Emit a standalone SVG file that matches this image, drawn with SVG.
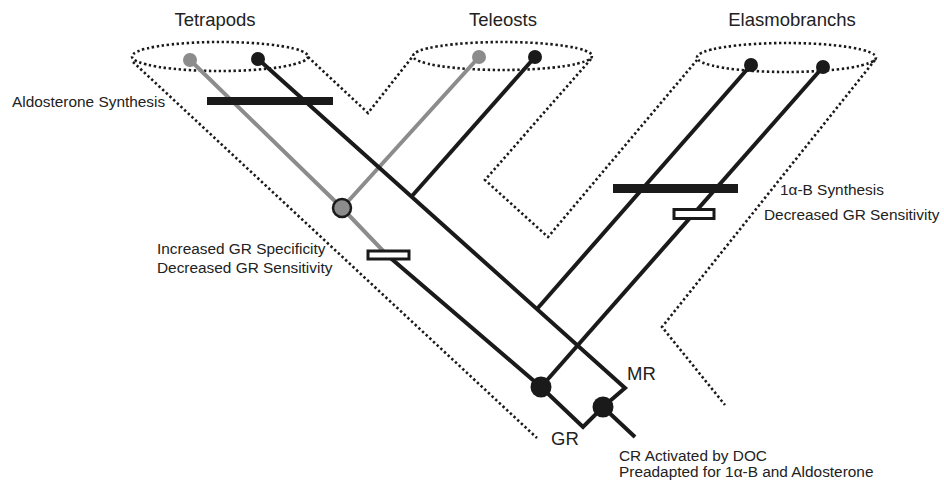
<svg xmlns="http://www.w3.org/2000/svg" width="944" height="481" viewBox="0 0 944 481">
<style>
.dot{fill:none;stroke:#1a1a1a;stroke-width:2.6;stroke-dasharray:2.4 2.6}
.blk{fill:none;stroke:#1a1a1a;stroke-width:4;stroke-linejoin:miter}
.gry{fill:none;stroke:#8c8c8c;stroke-width:4}
.bar{fill:#1a1a1a}
.box{fill:#fff;stroke:#1a1a1a;stroke-width:3}
text{font-family:"Liberation Sans",Arial,sans-serif;fill:#222}
.hd{font-size:18.5px;text-anchor:middle}
.lb{font-size:15.4px}
.br{font-size:18.5px}
</style>
<rect width="944" height="481" fill="#fff"/>
<g id="outlines">
<ellipse class="dot" cx="220" cy="56.5" rx="88" ry="14.5"/>
<ellipse class="dot" cx="502.5" cy="56" rx="89.5" ry="14"/>
<ellipse class="dot" cx="786.5" cy="57.5" rx="89.5" ry="14.5"/>
<path class="dot" d="M133,62 L537,438"/>
<path class="dot" d="M308,57 L368,113 L413,56"/>
<path class="dot" d="M591,59 L485,180 L548,237 L697,60"/>
<path class="dot" d="M875,60 L662,327 L725,405"/>
</g>
<g id="connectors">
<path class="gry" d="M190,60 L342,208 L387,255"/>
<path class="gry" d="M479,57 L342,208"/>
<path class="blk" d="M387,255 L541,387 L583,427 L603,407 L625,388 L258,59"/>
<path class="blk" d="M603,407 L635,437"/>
<path class="blk" d="M535,57 L412,196"/>
<path class="blk" d="M751,65 L537,309"/>
<path class="blk" d="M823,67 L541,387"/>
</g>
<g id="tetrapods">
<circle cx="190" cy="60" r="7" fill="#8c8c8c"/>
<circle cx="258" cy="59" r="7" fill="#1a1a1a"/>
<text class="hd" x="215" y="26">Tetrapods</text>
</g>
<g id="teleosts">
<circle cx="479" cy="57" r="7" fill="#8c8c8c"/>
<circle cx="535" cy="57" r="7" fill="#1a1a1a"/>
<text class="hd" x="503" y="26">Teleosts</text>
</g>
<g id="elasmobranchs">
<circle cx="751" cy="65" r="7" fill="#1a1a1a"/>
<circle cx="823" cy="67" r="7" fill="#1a1a1a"/>
<text class="hd" x="792" y="26">Elasmobranchs</text>
</g>
<g id="aldosterone">
<rect class="bar" x="207" y="97" width="126" height="8"/>
<text class="lb" x="12" y="107">Aldosterone Synthesis</text>
</g>
<g id="gray-node">
<circle cx="342" cy="208" r="9" fill="#8c8c8c" stroke="#1a1a1a" stroke-width="2.5"/>
</g>
<g id="gr-specificity">
<rect class="box" x="368" y="251" width="41" height="8"/>
<text class="lb" x="157" y="254">Increased GR Specificity</text>
<text class="lb" x="157" y="273">Decreased GR Sensitivity</text>
</g>
<g id="elasmo-events">
<rect class="bar" x="613" y="184" width="125" height="9"/>
<rect class="box" x="674" y="209.5" width="40" height="9"/>
<text class="lb" x="780" y="195">1α-B Synthesis</text>
<text class="lb" x="764" y="220">Decreased GR Sensitivity</text>
</g>
<g id="gr-node">
<circle cx="541" cy="387" r="10.5" fill="#1a1a1a"/>
<text class="br" x="551" y="445">GR</text>
</g>
<g id="mr">
<text class="br" x="627" y="380">MR</text>
</g>
<g id="cr-node">
<circle cx="603" cy="407" r="10.5" fill="#1a1a1a"/>
<text class="lb" x="619" y="461">CR Activated by DOC</text>
<text class="lb" x="619" y="477">Preadapted for 1α-B and Aldosterone</text>
</g>
</svg>
